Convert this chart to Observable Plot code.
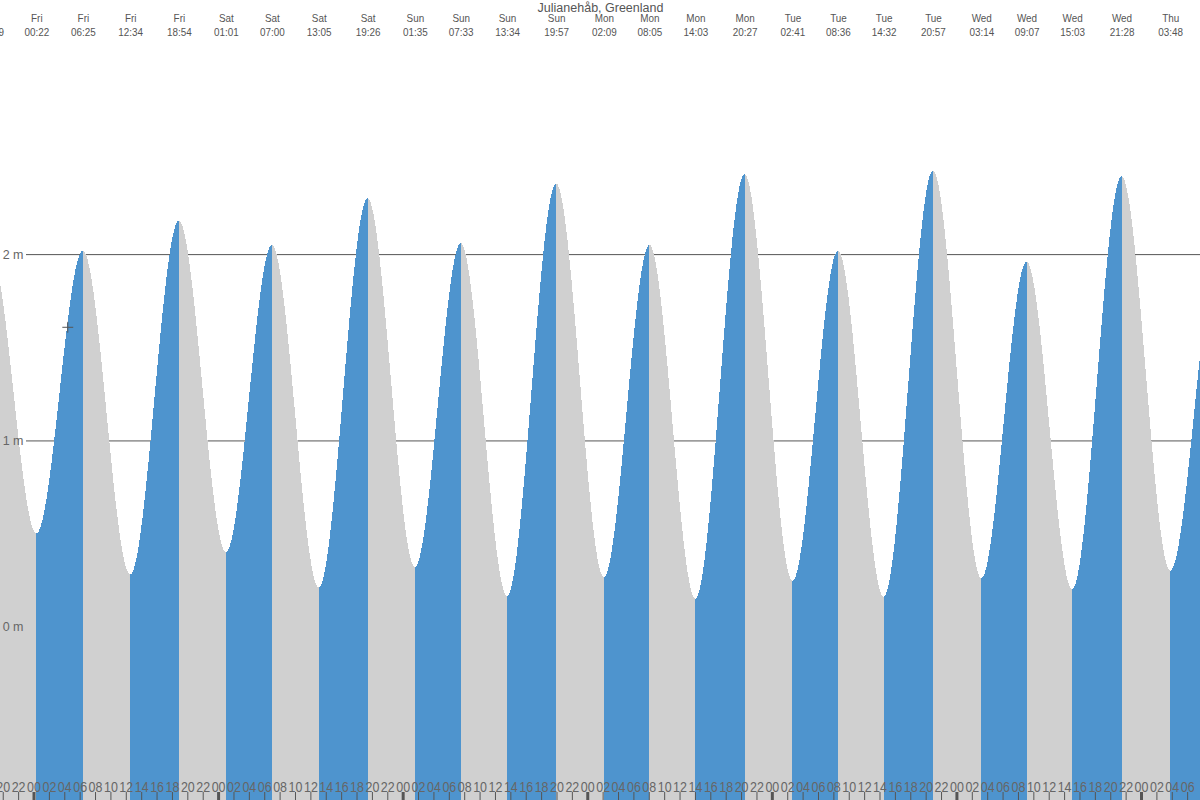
<!DOCTYPE html>
<html><head><meta charset="utf-8">
<script src="https://cdn.jsdelivr.net/npm/d3@7"></script>
<script src="https://cdn.jsdelivr.net/npm/@observablehq/plot@0.6"></script>
<style>html,body{margin:0;padding:0;background:#fff} svg{display:block}</style>
</head><body><div id="chart"></div>
<script>
// ---- data ----
const title = "Julianehåb, Greenland";
const extremeDays = ["Thu","Fri","Fri","Fri","Fri","Sat","Sat","Sat","Sat","Sun","Sun","Sun","Sun","Mon","Mon","Mon","Mon","Tue","Tue","Tue","Tue","Wed","Wed","Wed","Wed","Thu","Thu"];
const extremeDayIndex = [-1,0,0,0,0,1,1,1,1,2,2,2,2,3,3,3,3,4,4,4,4,5,5,5,5,6,6];
const extremeTimes = ["18:29","00:22","06:25","12:34","18:54","01:01","07:00","13:05","19:26","01:35","07:33","13:34","19:57","02:09","08:05","14:03","20:27","02:41","08:36","14:32","20:57","03:14","09:07","15:03","21:28","03:48","10:00"];
const extremeHeights = [2.00,0.50,2.02,0.28,2.18,0.40,2.05,0.21,2.30,0.32,2.06,0.165,2.38,0.265,2.05,0.15,2.43,0.245,2.02,0.16,2.45,0.26,1.96,0.20,2.42,0.30,1.99];
const gridMeters = [0, 1, 2];
const gridLabels = ["0 m", "1 m", "2 m"];
const nowPoint = {hour: 4.39, height: 1.61};
const timeDomain = [-4.356, 151.67];     // hours from Friday 00:00
const heightDomain = [-0.93, 3.364];      // metres

// ---- derived ----
const extremes = extremeTimes.map((t, i) => {
  const [hh, mm] = t.split(":").map(Number);
  return {day: extremeDays[i], time: t, hour: extremeDayIndex[i] * 24 + hh + mm / 60, height: extremeHeights[i]};
});
const segs = [];
for (let i = 0; i < extremes.length - 1; i++) {
  const a = extremes[i], b = extremes[i + 1];
  const rising = b.height > a.height;
  segs.push({seg: i, hour: a.hour, height: a.height, rising});
  segs.push({seg: i, hour: b.hour, height: b.height, rising});
}
const tickHours = d3.range(-4, 152, 2);
const hourLabel = h => String(((h % 24) + 24) % 24).padStart(2, "0");

// Bezier with horizontal tangents at each extreme (smooth tide shape)
function curveTide(context) {
  let x0, y0, n, line;
  return {
    areaStart() { line = 0; },
    areaEnd() { line = NaN; },
    lineStart() { n = 0; },
    lineEnd() { if (line || (line !== 0 && n === 1)) context.closePath(); line = 1 - line; },
    point(x, y) {
      x = +x; y = +y;
      if (n === 0) { line ? context.lineTo(x, y) : context.moveTo(x, y); }
      else { const dx = (x - x0) / 3; context.bezierCurveTo(x0 + dx, y0, x - dx, y, x, y); }
      n++; x0 = x; y0 = y;
    }
  };
}

const BLUE = "#4e94ce", GRAY = "#d0d0d0", INK = "#555";
const HOUR_FS = 14.5, EXT_FS = 11;

const chart = Plot.plot({
  width: 1200, height: 800,
  margin: 0,
  style: {fontFamily: "'Liberation Sans', Arial, sans-serif", background: "#fff"},
  x: {type: "linear", domain: timeDomain, axis: null},
  y: {domain: heightDomain, axis: null},
  marks: [
    Plot.ruleY(gridMeters, {y: d => d, stroke: INK, insetLeft: 26}),
    Plot.areaY(segs.filter(d => d.rising), {x: "hour", y1: heightDomain[0], y2: "height", z: "seg", fill: BLUE, curve: curveTide, shapeRendering: "crispEdges", clip: true}),
    Plot.areaY(segs.filter(d => !d.rising), {x: "hour", y1: heightDomain[0], y2: "height", z: "seg", fill: GRAY, curve: curveTide, shapeRendering: "crispEdges", clip: true}),
    Plot.ruleX(tickHours.filter(h => h % 24 !== 0), {x: d => d, stroke: INK, insetTop: 792}),
    Plot.ruleX(tickHours.filter(h => h % 24 === 0), {x: d => d, stroke: INK, strokeWidth: 3, insetTop: 792}),
    Plot.text(tickHours, {x: d => d, text: hourLabel, frameAnchor: "bottom", lineAnchor: "bottom", dy: -9, fontSize: HOUR_FS, fill: "#666"}),
    Plot.text(gridMeters, {y: d => d, text: (d, i) => gridLabels[i], frameAnchor: "left", textAnchor: "end", dx: 23, fontSize: 12.5, fill: "#666"}),
    Plot.text(extremes, {x: "hour", text: "day", frameAnchor: "top", lineAnchor: "bottom", dy: 21.5, fontSize: EXT_FS, fill: INK}),
    Plot.text(extremes, {x: "hour", text: "time", frameAnchor: "top", lineAnchor: "bottom", dy: 35.3, fontSize: EXT_FS, fill: INK}),
    Plot.text([title], {text: d => d, frameAnchor: "top", lineAnchor: "bottom", dy: 11, fontSize: 12.5, fill: INK}),
    Plot.dot([nowPoint], {x: "hour", y: "height", symbol: "plus", r: 3.6, stroke: INK, strokeWidth: 1})
  ]
});
// condensed look for the hour and extreme labels (horizontal squeeze about each label's anchor)
function squeeze(fs, k) {
  d3.select(chart).selectAll(`g[font-size="${fs}"] text`).each(function () {
    const x = +this.getAttribute("x") || 0;
    const t = this.getAttribute("transform") || "";
    this.setAttribute("transform", `${t} translate(${x},0) scale(${k},1) translate(${-x},0)`.trim());
  });
}
squeeze(HOUR_FS, 0.86);
squeeze(EXT_FS, 0.9);
document.getElementById("chart").appendChild(chart);
</script>
</body></html>
